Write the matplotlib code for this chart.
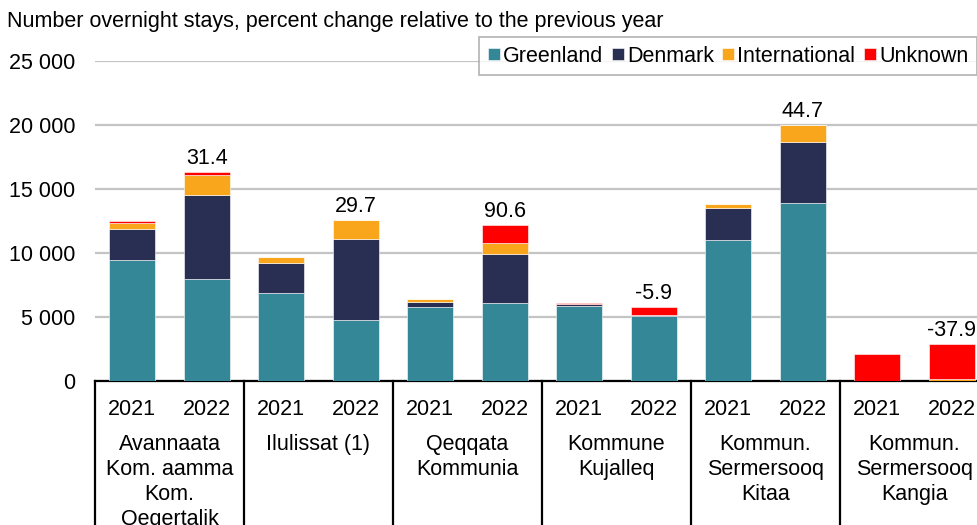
import numpy as np
import matplotlib.pyplot as plt
import matplotlib.transforms as mtransforms

plt.rcParams['font.family'] = ['Liberation Sans', 'DejaVu Sans']
plt.rcParams['font.size'] = 15.5

# data
regions = ["Avannaata\nKom. aamma\nKom.\nQeqertalik", "Ilulissat (1)",
           "Qeqqata\nKommunia", "Kommune\nKujalleq",
           "Kommun.\nSermersooq\nKitaa", "Kommun.\nSermersooq\nKangia"]
years = ["2021", "2022"]
greenland = [9450, 7970, 6880, 4790, 5780, 6090, 5880, 5100, 11020, 13880, 30, 20]
denmark = [2420, 6560, 2310, 6300, 420, 3800, 160, 30, 2520, 4790, 0, 0]
international = [480, 1560, 500, 1460, 200, 890, 0, 20, 290, 1350, 0, 120]
unknown = [150, 240, 0, 0, 0, 1430, 60, 600, 0, 0, 2050, 2750]
pct_change = [31.4, 29.7, 90.6, -5.9, 44.7, -37.9]

series = [("Greenland", greenland, '#348797'),
          ("Denmark", denmark, '#292e53'),
          ("International", international, '#f9a61c'),
          ("Unknown", unknown, '#ff0000')]

W, H = 977, 525
fig = plt.figure(figsize=(W / 100, H / 100), dpi=100)
# axes runs a bit past the right edge like the original
ax = fig.add_axes([95 / W, 1 - 381 / H, (989 - 95) / W, 320 / H])

x = np.arange(len(greenland))
bottom = np.zeros(len(x))
for name, vals, col in series:
    ax.bar(x, vals, 0.62, bottom=bottom, color=col, label=name,
           edgecolor='white', linewidth=0.4, zorder=3)
    bottom += np.array(vals)

# percent change labels above the 2022 bars
for i, p in enumerate(pct_change):
    xi = 2 * i + 1
    ax.text(xi, bottom[xi] + 250, f"{p:.1f}", ha='center', va='bottom')

ax.set_xlim(-0.5, len(x) - 0.5)
ax.set_ylim(0, 25000)
ax.set_yticks(np.arange(0, 25001, 5000))
ax.set_yticklabels([f"{v:,}".replace(",", " ") for v in range(0, 25001, 5000)])
ax.yaxis.grid(True, color='#c4c4c4', linewidth=1.6, zorder=0)
ax.set_axisbelow(True)
ax.tick_params(axis='y', length=0, pad=14)

ax.set_xticks(x)
ax.set_xticklabels(years * len(regions))
ax.tick_params(axis='x', length=0, pad=13)

for s in ['top', 'right', 'left']:
    ax.spines[s].set_visible(False)
ax.spines['bottom'].set_color('black')
ax.spines['bottom'].set_linewidth(1.6)

# category table under the axis
trans = mtransforms.blended_transform_factory(ax.transData, ax.transAxes)
for g in range(len(regions) + 1):
    ax.plot([2 * g - 0.5, 2 * g - 0.5], [0, -0.5], color='black',
            linewidth=1.6, transform=trans, clip_on=False)
for g, name in enumerate(regions):
    ax.text(2 * g + 0.5, -0.165, name, transform=trans, ha='center',
            va='top', linespacing=1.25)

handles, labels = ax.get_legend_handles_labels()
leg = fig.legend(handles, labels, loc='upper right',
                 bbox_to_anchor=(977 / W, 1 - 37 / H), ncol=4,
                 frameon=True, fancybox=False, handlelength=0.55,
                 handleheight=0.55, handletextpad=0.15, columnspacing=0.4,
                 borderpad=0.4, borderaxespad=0)
leg.get_frame().set_edgecolor('#a0a0a0')
leg.get_frame().set_linewidth(1.2)

fig.text(7 / W, 1 - 22 / H,
         "Number overnight stays, percent change relative to the previous year",
         ha='left', va='center')

fig.savefig('out.png', dpi=100)
